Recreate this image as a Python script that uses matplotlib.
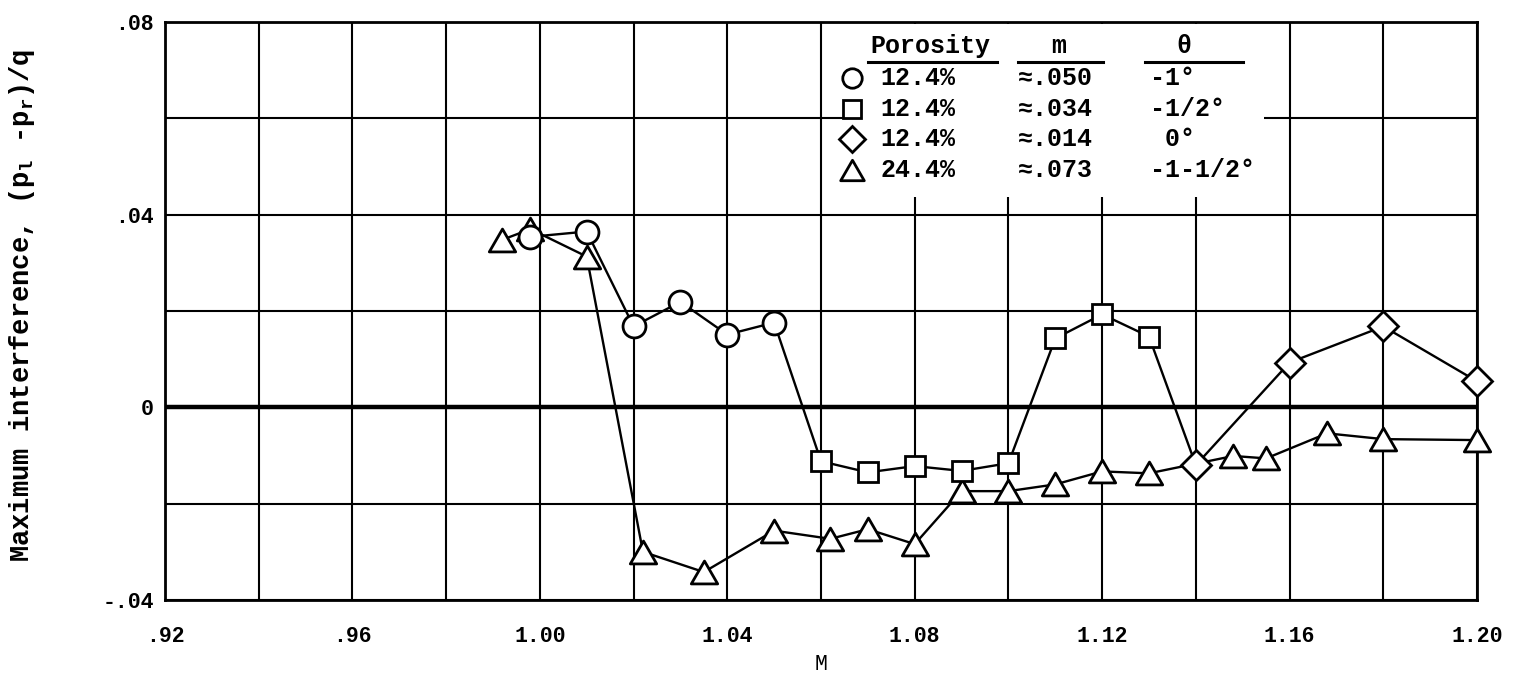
import numpy as np
import matplotlib
matplotlib.use("Agg")
import matplotlib.pyplot as plt
from matplotlib.path import Path
from matplotlib.patches import Rectangle

plt.rcParams['font.family'] = ['Liberation Mono', 'DejaVu Sans Mono']
plt.rcParams['font.weight'] = 'bold'
plt.rcParams['mathtext.fontset'] = 'custom'
plt.rcParams['mathtext.rm'] = 'Liberation Mono:bold'
plt.rcParams['mathtext.it'] = 'Liberation Mono:bold'

# Porosity 12.4 %, m ~ .050, theta -1 deg (circles)
mach_050 = [0.998, 1.010, 1.020, 1.030, 1.040, 1.050]
dp_050 = [0.0354, 0.0365, 0.0168, 0.0219, 0.0151, 0.0176]

# Porosity 12.4 %, m ~ .034, theta -1/2 deg (squares)
mach_034 = [1.060, 1.070, 1.080, 1.090, 1.100, 1.110, 1.120, 1.130]
dp_034 = [-0.0112, -0.0135, -0.0122, -0.0132, -0.0116, 0.0143, 0.0193, 0.0147]

# Porosity 12.4 %, m ~ .014, theta 0 deg (diamonds)
mach_014 = [1.140, 1.160, 1.180, 1.200]
dp_014 = [-0.0120, 0.0093, 0.0168, 0.0054]

# Porosity 24.4 %, m ~ .073, theta -1-1/2 deg (triangles)
mach_073 = [0.992, 0.998, 1.010, 1.022, 1.035, 1.050, 1.062, 1.070, 1.080,
            1.090, 1.100, 1.110, 1.120, 1.130, 1.148, 1.155, 1.168, 1.180, 1.200]
dp_073 = [0.0348, 0.0370, 0.0313, -0.0300, -0.0342, -0.0256, -0.0273, -0.0253, -0.0284,
          -0.0174, -0.0174, -0.0160, -0.0133, -0.0137, -0.0101, -0.0106, -0.0054, -0.0066, -0.0068]

x_ticks = [0.92, 0.96, 1.00, 1.04, 1.08, 1.12, 1.16, 1.20]
x_tick_labels = ['.92', '.96', '1.00', '1.04', '1.08', '1.12', '1.16', '1.20']
y_ticks = [-0.04, 0.0, 0.04, 0.08]
y_tick_labels = ['-.04', '0', '.04', '.08']

legend_porosity = ['12.4%', '12.4%', '12.4%', '24.4%']
legend_m = ['\u2248.050', '\u2248.034', '\u2248.014', '\u2248.073']
legend_theta = ['-1\u00b0', '-1/2\u00b0', ' 0\u00b0', '-1-1/2\u00b0']

# equilateral open triangle, centred on its bounding box
tri = Path([(-1, -0.866), (1, -0.866), (0, 0.866), (-1, -0.866)],
           [Path.MOVETO, Path.LINETO, Path.LINETO, Path.CLOSEPOLY])

W, H = 1516, 690
fig = plt.figure(figsize=(W / 100, H / 100), dpi=100)
ax = fig.add_axes([165 / W, (H - 600) / H, (1477 - 165) / W, (600 - 22) / H])

ax.set_xlim(0.92, 1.20)
ax.set_ylim(-0.04, 0.08)

# grid every .02 in both directions
for gx in np.arange(0.92, 1.2001, 0.02):
    ax.axvline(gx, color='black', lw=1.5, zorder=0.5)
for gy in np.arange(-0.04, 0.0801, 0.02):
    ax.axhline(gy, color='black', lw=1.5, zorder=0.5)
ax.axhline(0.0, color='black', lw=3.2, zorder=0.6)

for s in ax.spines.values():
    s.set_linewidth(2)

ax.set_xticks(x_ticks)
ax.set_xticklabels(x_tick_labels)
ax.set_yticks(y_ticks)
ax.set_yticklabels(y_tick_labels)
ax.tick_params(length=0, labelsize=15.5)
ax.tick_params(axis='x', pad=19)
ax.tick_params(axis='y', pad=8)

lw = 1.7
mew = 2.0
# connecting lines
ax.plot(mach_073, dp_073, color='black', lw=lw, zorder=2)
ax.plot(mach_050 + mach_034 + mach_014, dp_050 + dp_034 + dp_014,
        color='black', lw=lw, zorder=2)

# markers
mk_kw = dict(ls='none', mfc='white', mec='black', mew=mew, clip_on=False)
ax.plot(mach_073, dp_073, marker=tri, ms=19, zorder=3, **mk_kw)
ax.plot(mach_050, dp_050, marker='o', ms=16.5, zorder=4, **mk_kw)
ax.plot(mach_034, dp_034, marker='s', ms=14.5, zorder=4, **mk_kw)
ax.plot(mach_014, dp_014, marker='D', ms=15, zorder=4, **mk_kw)

ax.set_xlabel('M', fontsize=15.5, labelpad=5)
fig.text(22 / W, 1 - 305 / H,
         'Maximum interference, (p$_l$ -p$_r$)/q',
         rotation=90, ha='center', va='center', fontsize=19.5)

# legend table in axes-fraction coordinates
def fx(px):
    return (px - 165) / (1477 - 165)

def fy(py):
    return (600 - py) / (600 - 22)

ax.add_patch(Rectangle((fx(845), fy(197)), fx(1264) - fx(845), fy(24) - fy(197),
                       transform=ax.transAxes, facecolor='white', edgecolor='none',
                       zorder=1))
fs_leg = 18
hdr_y = fy(46)
ax.text(fx(930), hdr_y, 'Porosity', transform=ax.transAxes, ha='center', va='center',
        fontsize=fs_leg, zorder=6)
ax.text(fx(1059), hdr_y, 'm', transform=ax.transAxes, ha='center', va='center',
        fontsize=fs_leg, zorder=6)
ax.text(fx(1184), hdr_y, '\u03b8', transform=ax.transAxes, ha='center', va='center',
        fontsize=fs_leg, zorder=6)
for x0, x1 in [(868, 997), (1018, 1103), (1145, 1243)]:
    ax.plot([fx(x0), fx(x1)], [fy(62), fy(62)], transform=ax.transAxes,
            color='black', lw=2.2, zorder=6, clip_on=False)

row_y = [78, 109, 139, 170]
row_markers = ['o', 's', 'D', tri]
row_ms = [14, 13, 13, 17]
for yy, mk, ms, por, mv, th in zip(row_y, row_markers, row_ms, legend_porosity,
                                   legend_m, legend_theta):
    ax.plot([fx(852)], [fy(yy)], transform=ax.transAxes, ls='none', marker=mk, ms=ms,
            mfc='white', mec='black', mew=2.0, zorder=6, clip_on=False)
    ax.text(fx(880), fy(yy), por, transform=ax.transAxes, ha='left', va='center',
            fontsize=fs_leg, zorder=6)
    ax.text(fx(1018), fy(yy), mv, transform=ax.transAxes, ha='left', va='center',
            fontsize=fs_leg, zorder=6)
    ax.text(fx(1150), fy(yy), th, transform=ax.transAxes, ha='left', va='center',
            fontsize=fs_leg, zorder=6)

fig.savefig('out.png', dpi=100, facecolor='white')
